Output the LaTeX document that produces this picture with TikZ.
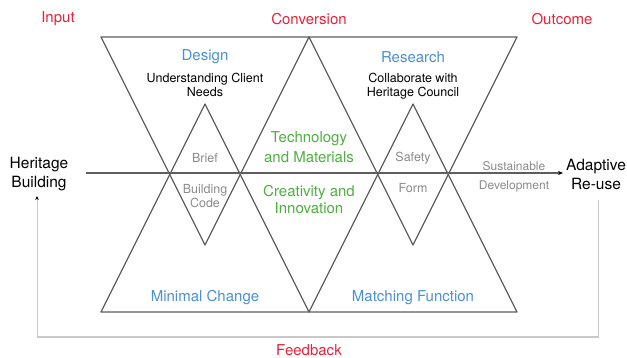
\documentclass[tikz,border=0pt]{standalone}
\usepackage{fontspec}
\setmainfont{TeX Gyre Heros}
\usepackage{tikz}
\usetikzlibrary{arrows.meta}
\definecolor{hred}{HTML}{E8213A}
\definecolor{hblue}{HTML}{4A90D2}
\definecolor{hgreen}{HTML}{4DAF3F}
\definecolor{hgray}{HTML}{8A8A8A}
\definecolor{hline}{HTML}{5E5E5E}
\definecolor{hloop}{HTML}{C8C8C8}
\tikzset{stage/.style={text=hred,font=\fontsize{15}{17}\selectfont},
         head/.style={text=hblue,font=\fontsize{15}{17}\selectfont},
         task/.style={align=center,font=\fontsize{12.5}{14}\selectfont},
         factor/.style={text=hgray,align=center,font=\fontsize{12.5}{14}\selectfont},
         idea/.style={text=hgreen,align=center,font=\fontsize{15}{19}\selectfont},
         ends/.style={align=center,font=\fontsize{15.5}{19}\selectfont},
         tri/.style={draw=hline,line width=1.3pt,line join=round}}

\begin{document}
\begin{tikzpicture}[x=1pt,y=-1pt,inner sep=0pt]
\useasboundingbox (0,0) rectangle (627,358);
% two pairs of crossed triangles
\draw[tri] (101,37)--(309,37)--(205,245)--cycle;
\draw[tri] (101,312)--(309,312)--(205,104)--cycle;
\draw[tri] (309,37)--(517,37)--(413,245)--cycle;
\draw[tri] (309,312)--(517,312)--(413,104)--cycle;
% stages
\node[stage] (input) at (58,19) {Input};
\node[stage] (conv) at (309,19) {Conversion};
\node[stage] (outcome) at (562,19) {Outcome};
\node[stage] (feedback) at (309,350) {Feedback};
% left triangles
\node[head] (design) at (205,57) {Design};
\node[task] (client) at (205,85) {Understanding Client\\Needs};
\node[factor] (brief) at (205,158) {Brief};
\node[factor] (code) at (205,196) {Building\\Code};
\node[head] (minimal) at (205,298) {Minimal Change};
% middle
\node[idea] (tech) at (309,147) {Technology\\[1pt]and Materials};
\node[idea,font=\fontsize{15}{17}\selectfont] (creat) at (309,199.5) {Creativity and\\Innovation};
% right triangles
\node[head] (research) at (413,57) {Research};
\node[task] (council) at (413,86) {Collaborate with\\Heritage Council};
\node[factor] (safety) at (413,158) {Safety};
\node[factor] (form) at (413,188) {Form};
\node[head] (matching) at (413,298) {Matching Function};
% ends
\node[ends] (heritage) at (39,174.5) {Heritage\\Building};
\node[ends] (adaptive) at (596,174.5) {Adaptive\\Re-use};
\node[factor,font=\fontsize{12}{19}\selectfont] (sustain) at (514,176.5) {Sustainable\\Development};
% spine and feedback loop
\coordinate (spinein) at (86,173);
\coordinate (spineout) at (563,173);
\draw[hline,line width=1.3pt,-{Stealth[black,length=5pt,width=4pt]}] (spinein) -- (spineout);
\coordinate (loopa) at (598,200);
\coordinate (loopb) at (37,337);
\coordinate (loopc) at (37,196);
\draw[hloop,line width=1pt] (loopa) |- (loopb);
\draw[hloop,line width=1pt,-{Stealth[black,length=4pt,width=3.5pt]}] (loopb) -- (loopc);
\end{tikzpicture}
\end{document}
